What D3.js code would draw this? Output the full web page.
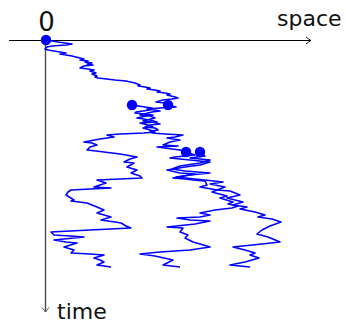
<!DOCTYPE html>
<html>
<head>
<meta charset="utf-8">
<script src="https://cdn.jsdelivr.net/npm/d3@7"></script>
<style>
  html, body { margin: 0; padding: 0; background: #fff; }
  svg { display: block; }
  text { font-family: "DejaVu Sans", sans-serif; fill: #111; }
</style>
</head>
<body>
<figure id="bbm" style="margin:0"></figure>
<script>
// Branching random walk as [time, space] pairs.
const rootPath = [
  [0, 0], [0.2, 1.2], [0.4, 2.6], [0.5, 2.0], [0.6, 0.6], [0.7, 0.1], [0.9, -0.1], [1.0, 0.2],
  [1.2, 1.4], [1.3, 2.0], [1.4, 1.4], [1.6, 2.6], [1.8, 3.4], [1.9, 3.8], [2.0, 3.4], [2.1, 4.2],
  [2.2, 3.9], [2.3, 4.6], [2.4, 4.1], [2.5, 4.7], [2.6, 3.8], [2.8, 3.4], [2.9, 4.2], [3.0, 4.8],
  [3.1, 4.4], [3.3, 5.0], [3.4, 4.6], [3.6, 5.1], [3.7, 4.9], [3.8, 5.2], [4.0, 6.9], [4.1, 8.0],
  [4.3, 8.9], [4.5, 9.4], [4.6, 9.2], [4.7, 9.9], [4.8, 10.4], [4.9, 10.1], [5.0, 10.9], [5.1, 11.4],
  [5.2, 11.1], [5.3, 11.9], [5.4, 12.4], [5.5, 12.1], [5.7, 12.9], [5.8, 13.2], [5.9, 12.6], [6.0, 11.7],
  [6.2, 11.0], [6.3, 11.9], [6.4, 12.6], [6.5, 12.2]
];

const leftPath = [
  [6.5, 8.6], [6.7, 9.9], [6.8, 10.6], [6.9, 10.1], [7.0, 10.4], [7.2, 9.0], [7.3, 8.9], [7.5, 10.7],
  [7.6, 10.0], [7.8, 9.1], [8.0, 10.4], [8.2, 11.1], [8.3, 9.4], [8.5, 10.2], [8.7, 10.7], [8.8, 9.7],
  [9.0, 10.4], [9.2, 10.9], [9.3, 9.8], [9.4, 7.4], [9.5, 6.1], [9.7, 6.8], [9.9, 5.4], [10.2, 3.8],
  [10.3, 4.6], [10.5, 5.1], [10.7, 4.4], [11.0, 4.1], [11.1, 5.0], [11.2, 5.8], [11.4, 7.4], [11.7, 9.1],
  [11.9, 8.4], [12.2, 7.8], [12.3, 8.8], [12.7, 8.1], [13.0, 9.1], [13.3, 8.5], [13.6, 9.4], [13.8, 9.6],
  [13.9, 7.4], [14.0, 5.1], [14.3, 6.0], [14.7, 4.8], [14.8, 6.5], [14.9, 4.4], [15.0, 2.5], [15.2, 2.2],
  [15.5, 2.0], [16.0, 2.8], [16.1, 2.5], [16.3, 4.1], [16.5, 4.6], [16.7, 5.1], [17.0, 5.8], [17.3, 5.1],
  [17.7, 6.5], [18.0, 5.5], [18.2, 6.9], [18.3, 7.5], [18.6, 8.0], [18.8, 8.5], [19.0, 4.4], [19.2, 0.5],
  [19.5, 0.8], [19.6, 2.4], [19.7, 3.8], [20.0, 0.8], [20.2, 2.0], [20.3, 3.1], [20.7, 1.8], [21.0, 2.8],
  [21.3, 2.5], [21.4, 4.4], [21.5, 5.8], [21.8, 4.8], [22.0, 5.4], [22.2, 5.8], [22.5, 5.1], [22.7, 6.5]
];

const rightPath = [
  [6.5, 12.2], [6.7, 13.0], [6.8, 11.4], [6.9, 10.2], [7.1, 11.4], [7.2, 10.6], [7.5, 9.4], [7.6, 10.4],
  [7.8, 10.9], [8.1, 9.7], [8.2, 10.6], [8.4, 11.4], [8.5, 10.4], [8.7, 9.9], [8.8, 10.9], [9.0, 11.2],
  [9.1, 10.4], [9.3, 10.6], [9.4, 11.9], [9.5, 13.7], [9.7, 12.9], [9.8, 12.1], [9.9, 12.7], [10.0, 13.4],
  [10.2, 12.4], [10.5, 11.7], [10.6, 13.2], [10.7, 11.1], [10.8, 11.9], [10.9, 12.6], [11.0, 13.4], [11.2, 14.0]
];

const middlePath = [
  [11.2, 14.0], [11.5, 14.9], [11.7, 12.9], [11.8, 12.4], [12.0, 14.4], [12.2, 16.4], [12.5, 15.4], [12.7, 13.9],
  [13.0, 12.1], [13.3, 13.4], [13.4, 14.9], [13.8, 12.7], [13.9, 13.9], [14.0, 14.7], [14.1, 15.9], [14.5, 16.1],
  [14.7, 15.4], [15.0, 17.1], [15.2, 16.6], [15.6, 18.1], [15.8, 17.4], [16.2, 18.7], [16.4, 18.2], [16.6, 19.2],
  [16.8, 18.6], [17.0, 16.9], [17.3, 15.4], [17.5, 16.4], [17.7, 15.4], [17.8, 13.1], [18.0, 14.4], [18.1, 16.4],
  [18.4, 14.9], [18.7, 12.1], [18.8, 13.7], [19.2, 13.4], [19.5, 14.2], [19.8, 13.9], [20.2, 14.7], [20.4, 15.4],
  [20.7, 16.4], [21.0, 14.4], [21.2, 11.4], [21.4, 9.4], [21.6, 10.9], [22.0, 12.7], [22.5, 11.7], [22.7, 13.4]
];

const farRightPath = [
  [11.2, 15.4], [11.6, 15.9], [11.8, 14.4], [12.0, 16.4], [12.3, 15.4], [12.6, 13.4], [12.9, 12.6], [13.1, 13.9],
  [13.3, 16.4], [13.5, 14.4], [13.7, 13.0], [13.9, 14.9], [14.2, 17.7], [14.4, 16.4], [14.7, 17.9], [15.0, 17.1],
  [15.1, 18.4], [15.5, 19.4], [15.8, 18.1], [16.2, 19.7], [16.5, 18.7], [16.7, 20.1], [16.9, 19.4], [17.2, 20.9],
  [17.5, 21.9], [17.7, 21.2], [17.9, 22.6], [18.2, 23.5], [18.6, 22.4], [19.0, 21.6], [19.4, 21.1], [19.7, 22.2],
  [20.2, 23.4], [20.4, 21.6], [20.7, 18.7], [21.0, 19.9], [21.3, 20.9], [21.5, 20.4], [21.8, 21.3], [22.2, 19.9],
  [22.5, 18.4], [22.7, 20.4]
];

const paths = [rootPath, leftPath, rightPath, middlePath, farRightPath];

// branching events (and the start)
const branchTimes = [0, 6.5, 6.5, 11.2, 11.2];
const branchSpaces = [0, 8.6, 12.2, 14.0, 15.4];

const axisLabels = { origin: "0", space: "space", time: "time" };

const width = 346;
const height = 323;

const x = d3.scaleLinear().domain([-3.7, 26.5]).range([9, 311]);
const y = d3.scaleLinear().domain([0, 27.2]).range([40, 312]);

const svg = d3.select("figure#bbm")
  .append("svg")
  .attr("width", width)
  .attr("height", height)
  .attr("viewBox", [0, 0, width, height]);

// space axis (horizontal)
const [sx0, sx1] = x.range();
svg.append("line")
  .attr("x1", sx0).attr("x2", sx1)
  .attr("y1", y(0) + 0.5).attr("y2", y(0) + 0.5)
  .attr("stroke", "#000")
  .attr("stroke-width", 1.1);
svg.append("path")
  .attr("d", `M${sx1 - 5},${y(0) - 3} Q${sx1 - 2},${y(0) - 0.5} ${sx1},${y(0) + 0.5} Q${sx1 - 2},${y(0) + 1.5} ${sx1 - 5},${y(0) + 4}`)
  .attr("fill", "none")
  .attr("stroke", "#000")
  .attr("stroke-width", 0.9);

// time axis (vertical)
const [ty0, ty1] = y.range();
svg.append("line")
  .attr("x1", x(0) - 0.5).attr("x2", x(0) - 0.5)
  .attr("y1", ty0).attr("y2", ty1)
  .attr("stroke", "#4a4a4a")
  .attr("stroke-width", 1.4);
svg.append("path")
  .attr("d", `M${x(0) - 4},${ty1 - 4.5} Q${x(0) - 1.5},${ty1 - 1.5} ${x(0) - 0.5},${ty1} Q${x(0) + 0.5},${ty1 - 1.5} ${x(0) + 3},${ty1 - 4.5}`)
  .attr("fill", "none")
  .attr("stroke", "#4a4a4a")
  .attr("stroke-width", 0.9);

// labels
svg.append("text")
  .attr("x", x(0) + 0.5)
  .attr("y", 30.5)
  .attr("text-anchor", "middle")
  .attr("font-size", 26)
  .text(axisLabels.origin);

svg.append("text")
  .attr("x", 277)
  .attr("y", 26)
  .attr("font-size", 22)
  .text(axisLabels.space);

svg.append("text")
  .attr("x", 57)
  .attr("y", 319)
  .attr("font-size", 22)
  .text(axisLabels.time);

// trajectories
const line = d3.line()
  .x(d => x(d[1]))
  .y(d => y(d[0]));

svg.append("g")
  .attr("fill", "none")
  .attr("stroke", "#0000ff")
  .attr("stroke-width", 1.6)
  .attr("stroke-linejoin", "round")
  .selectAll("path")
  .data(paths)
  .join("path")
  .attr("d", line);

// branch points
svg.append("g")
  .attr("fill", "#0000ff")
  .selectAll("circle")
  .data(d3.range(branchTimes.length))
  .join("circle")
  .attr("cx", i => x(branchSpaces[i]))
  .attr("cy", i => y(branchTimes[i]))
  .attr("r", 5.2);
</script>
</body>
</html>
